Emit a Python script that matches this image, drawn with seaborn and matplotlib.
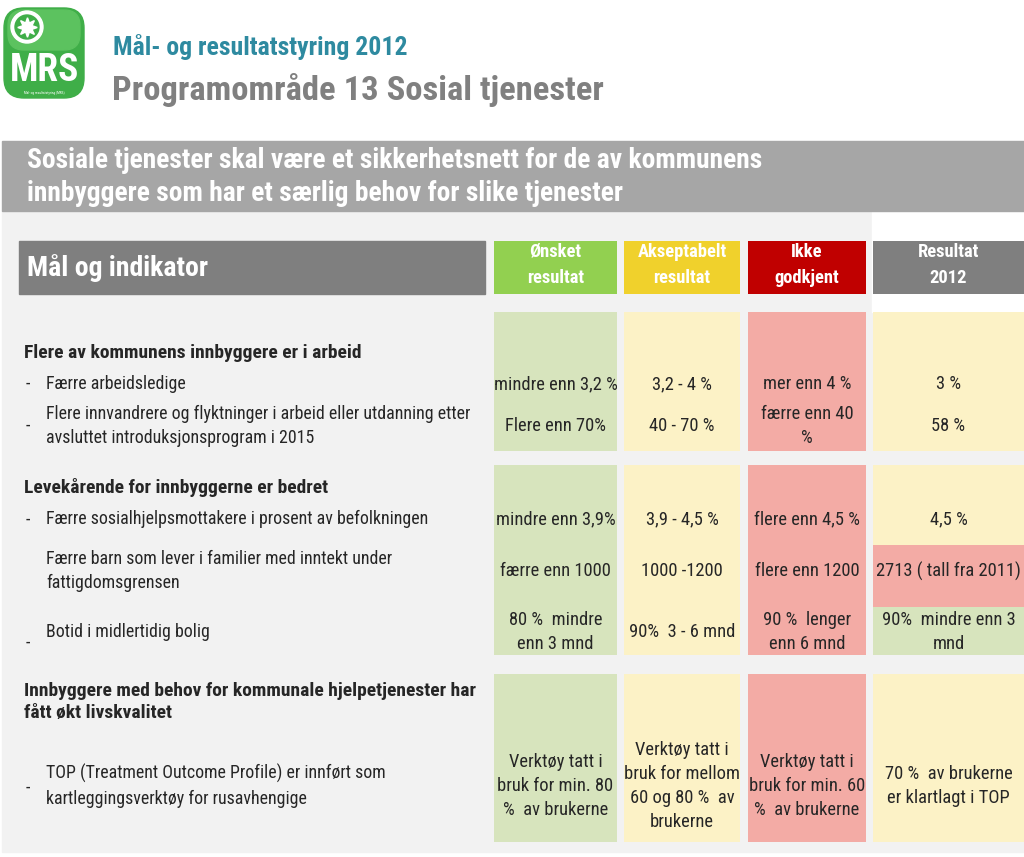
import matplotlib
matplotlib.use("Agg")
import matplotlib.pyplot as plt
from matplotlib.patches import Rectangle, FancyBboxPatch, Circle
import seaborn as sb

# --- data -------------------------------------------------------------
title_top = 'Mål- og resultatstyring 2012'
title_main = 'Programområde 13 Sosial tjenester'
banner = ('Sosiale tjenester skal være et sikkerhetsnett for de av kommunens\n'
          'innbyggere som har et særlig behov for slike tjenester')

header_left = 'Mål og indikator'
columns = ['Ønsket\nresultat', 'Akseptabelt\nresultat', 'Ikke\ngodkjent', 'Resultat\n2012']
column_status = ['onsket', 'akseptabelt', 'ikke', 'resultat']

goals = ['Flere av kommunens innbyggere er i arbeid',
         'Levekårende for innbyggerne er bedret',
         'Innbyggere med behov for kommunale hjelpetjenester har\nfått økt livskvalitet']

indicators = ['Færre arbeidsledige',
              'Flere innvandrere og flyktninger i arbeid eller utdanning etter\n'
              'avsluttet introduksjonsprogram i 2015',
              'Færre sosialhjelpsmottakere i prosent av befolkningen',
              'Færre barn som lever i familier med inntekt under\nfattigdomsgrensen',
              'Botid i midlertidig bolig',
              'TOP (Treatment Outcome Profile) er innført som\nkartleggingsverktøy for rusavhengige']
has_dash = [True, True, True, False, True, True]

onsket = ['mindre enn 3,2 %', 'Flere enn 70%', 'mindre enn 3,9%', 'færre enn 1000',
          '80 %  mindre\nenn 3 mnd', 'Verktøy tatt i\nbruk for min. 80\n%  av brukerne']
akseptabelt = ['3,2 - 4 %', '40 - 70 %', '3,9 - 4,5 %', '1000 -1200',
               '90%  3 - 6 mnd', 'Verktøy tatt i\nbruk for mellom\n60 og 80 %  av\nbrukerne']
ikke_godkjent = ['mer enn 4 %', 'færre enn 40\n%', 'flere enn 4,5 %', 'flere enn 1200',
                 '90 %  lenger\nenn 6 mnd', 'Verktøy tatt i\nbruk for min. 60\n%  av brukerne']
resultat = ['3 %', '58 %', '4,5 %', '2713 ( tall fra 2011)',
            '90%  mindre enn 3\nmnd', '70 %  av brukerne\ner klartlagt i TOP']
resultat_status = ['akseptabelt', 'akseptabelt', 'akseptabelt', 'ikke', 'onsket', 'akseptabelt']

# --- layout (pixels) --------------------------------------------------
col_x = [(494, 617), (624, 740), (748, 866), (873, 1024)]
row_bands = [(312, 405), (405, 451), (465, 545), (545, 607), (607, 655), (674, 842)]
row_y = [384, 426, 519, 571, 632, 786]
dash_y = [384, 426, 520, 571, 643, 788]
goal_y = [353, 487, 702]

strong = {'onsket': '#92d050', 'akseptabelt': '#f0d12c', 'ikke': '#c00000', 'resultat': '#7f7f7f'}
light = {'onsket': '#d7e4bd', 'akseptabelt': '#fcf2c6', 'ikke': '#f3aba5'}
txt = '#262626'

sb.set_theme(style='white')
plt.rcParams['font.family'] = ['Liberation Sans Narrow', 'Roboto Condensed', 'Archivo Narrow', 'DejaVu Sans']

fig = plt.figure(figsize=(10.24, 8.57), dpi=100)
ax = fig.add_axes([0, 0, 1, 1])
ax.set_xlim(0, 1024)
ax.set_ylim(857, 0)
ax.axis('off')

# logo
ax.add_patch(FancyBboxPatch((4, 8), 80, 90, boxstyle='round,pad=0,rounding_size=20',
                            color='#3fae48', zorder=2))
ax.add_patch(FancyBboxPatch((8, 10), 72, 40, boxstyle='round,pad=0,rounding_size=16',
                            color='#5cc25f', zorder=2))
ax.add_patch(Circle((27, 27), 16, color='white', zorder=3))
ax.add_patch(Circle((27, 27), 12, color='#3fae48', zorder=3))
ax.plot(27, 27, marker=(8, 1, 0), markersize=14, color='white', zorder=4)
ax.text(44, 70, 'MRS', color='white', fontsize=27, fontweight='bold', ha='center', va='center', zorder=4)
ax.text(44, 93, 'Mål- og resultatstyring (MRS)', color='white', fontsize=2.5, ha='center', va='center', zorder=4)

ax.text(113, 47, title_top, color='#2e8aa0', fontsize=18.5, fontweight='bold', va='center')
ax.text(112, 90, title_main, color='#808080', fontsize=24.8, fontweight='bold', va='center')

# background panels
ax.add_patch(Rectangle((2, 211), 1022, 641, color='#f2f2f2', zorder=0))
ax.add_patch(Rectangle((872, 211), 152, 101, color='white', zorder=0))
ax.add_patch(Rectangle((2, 141), 1022, 70, color='#a6a6a6', zorder=1))
ax.text(27, 177, banner, color='white', fontsize=19.8, fontweight='bold', va='center',
        linespacing=1.3)

# header row
ax.add_patch(Rectangle((19, 241), 466, 53, color='#7f7f7f', zorder=1))
ax.text(27, 268, header_left, color='white', fontsize=20, fontweight='bold', va='center')
for (x0, x1), label, st in zip(col_x, columns, column_status):
    ax.bar((x0 + x1) / 2, 53, bottom=241, width=x1 - x0, color=strong[st], linewidth=0, zorder=1)
    ax.text((x0 + x1) / 2, 265, label, color='white', fontsize=13.3, fontweight='bold',
            ha='center', va='center', ma='center', linespacing=1.6)

# body cells
cell_text = [onsket, akseptabelt, ikke_godkjent, resultat]
for i in range(len(indicators)):
    b0, b1 = row_bands[i]
    for c, (x0, x1) in enumerate(col_x):
        st = column_status[c] if c < 3 else resultat_status[i]
        ax.bar((x0 + x1) / 2, b1 - b0, bottom=b0, width=x1 - x0, color=light[st],
               linewidth=0, zorder=1)
        ax.text((x0 + x1) / 2, row_y[i], cell_text[c][i], color=txt, fontsize=13.3,
                ha='center', va='center', ma='center', linespacing=1.45, zorder=2)
    if has_dash[i]:
        ax.text(26, dash_y[i], '-', color=txt, fontsize=13, va='center')
    ax.text(46, row_y[i], indicators[i], color=txt, fontsize=12.9, va='center', linespacing=1.45)

for g, y in zip(goals, goal_y):
    ax.text(24, y, g, color=txt, fontsize=14, fontweight='bold', va='center', linespacing=1.35)

plt.savefig('out.png', dpi=100)
